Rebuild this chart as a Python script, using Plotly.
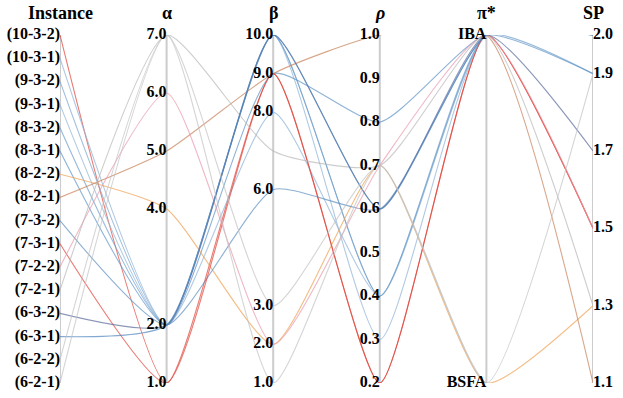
import plotly.graph_objects as go

# axes of the parallel chart
dims = ["Instance", "α", "β", "ρ", "π*", "SP"]

instances = ["(10-3-2)", "(10-3-1)", "(9-3-2)", "(9-3-1)", "(8-3-2)", "(8-3-1)",
             "(8-2-2)", "(8-2-1)", "(7-3-2)", "(7-3-1)", "(7-2-2)", "(7-2-1)",
             "(6-3-2)", "(6-3-1)", "(6-2-2)", "(6-2-1)"]
alpha = [1, 2, 2, 2, 2, 2, 4, 5, 2, 1, 6, 7, 2, 2, 7, 7]
beta = [9, 10, 10, 8, 10, 9, 2, 9, 6, 9, 2, 7, 10, 10, 3, 1]
rho = [0.2, 0.3, 0.4, 0.4, 0.4, 0.8, 0.7, 1.0, 0.6, 0.2, 0.7, 0.7, 0.6, 0.6, 0.7, 0.7]
pi_star = ["IBA", "IBA", "IBA", "IBA", "IBA", "IBA", "BSFA", "IBA", "IBA", "IBA",
           "IBA", "IBA", "IBA", "IBA", "BSFA", "BSFA"]
sp = [1.5, 2.0, 2.0, 2.0, 1.9, 1.9, 1.3, 1.1, 2.0, 1.5, 1.5, 1.3, 1.7, 2.0, 1.9, 1.1]
colors = ["#e0453a", "#8fb4d8", "#7aa6d0", "#8fb4d8", "#6f9fcc", "#5d93c6",
          "#f0a050", "#c8825a", "#5d8fc0", "#e0453a", "#e99aac", "#b8b8b8",
          "#5b6b9c", "#4f86bf", "#c4c4c4", "#c4c4c4"]

alpha_ticks = [1.0, 2.0, 4.0, 5.0, 6.0, 7.0]
beta_ticks = [1.0, 2.0, 3.0, 6.0, 8.0, 9.0, 10.0]
rho_ticks = [0.2, 0.3, 0.4, 0.5, 0.6, 0.7, 0.8, 0.9, 1.0]
pi_ticks = ["BSFA", "IBA"]
sp_ticks = [1.1, 1.3, 1.5, 1.7, 1.9, 2.0]

alpha_rng = (1, 7)
beta_rng = (1, 10)
rho_rng = (0.2, 1.0)
sp_rng = (1.1, 2.0)

FONT = "Liberation Serif"


def norm(v, rng):
    return (v - rng[0]) / (rng[1] - rng[0])


def inst_pos(name):
    n = len(instances)
    return (n - 1 - instances.index(name)) / (n - 1)


fig = go.Figure()

# axis lines
for i in range(len(dims)):
    fig.add_shape(type="line", x0=i, x1=i, y0=0, y1=1, xref="x", yref="y",
                  line=dict(color="#cccccc", width=2), layer="below")

# data lines (smooth)
for k, name in enumerate(instances):
    ys = [inst_pos(name), norm(alpha[k], alpha_rng), norm(beta[k], beta_rng),
          norm(rho[k], rho_rng), float(pi_ticks.index(pi_star[k])), norm(sp[k], sp_rng)]
    fig.add_trace(go.Scatter(
        x=list(range(len(dims))), y=ys, mode="lines",
        line=dict(color=colors[k], width=1.1, shape="spline", smoothing=0.55),
        opacity=0.7, hoverinfo="skip", showlegend=False,
    ))

# tick labels on each axis
def add_labels(xpos, yvals, texts, side="middle left"):
    fig.add_trace(go.Scatter(
        x=[xpos] * len(yvals), y=yvals, mode="text",
        text=["<b>%s</b>" % t for t in texts], textposition=side,
        textfont=dict(family=FONT, size=16, color="black"),
        hoverinfo="skip", showlegend=False, cliponaxis=False,
    ))


add_labels(0, [inst_pos(s) for s in instances], instances)
add_labels(1, [norm(v, alpha_rng) for v in alpha_ticks], ["%.1f" % v for v in alpha_ticks])
add_labels(2, [norm(v, beta_rng) for v in beta_ticks], ["%.1f" % v for v in beta_ticks])
add_labels(3, [norm(v, rho_rng) for v in rho_ticks], ["%.1f" % v for v in rho_ticks])
add_labels(4, [float(i) for i in range(len(pi_ticks))], pi_ticks)
add_labels(5, [norm(v, sp_rng) for v in sp_ticks], ["%.1f" % v for v in sp_ticks], side="middle right")

# axis names on top
titles = ["Instance", "α", "β", "<i>ρ</i>", "π*", "SP"]
for i, t in enumerate(titles):
    fig.add_annotation(x=i, y=1, xref="x", yref="paper", yanchor="bottom", yshift=10,
                       text="<b>%s</b>" % t, showarrow=False,
                       font=dict(family=FONT, size=18, color="black"))

fig.update_xaxes(range=[0, 5], visible=False, fixedrange=True)
fig.update_yaxes(range=[0, 1], visible=False, fixedrange=True)
fig.update_layout(
    width=623, height=398,
    margin=dict(l=60, r=30, t=35, b=15),
    plot_bgcolor="white", paper_bgcolor="white",
)

# drop the default 8px body margin so the figure fills the window
fig.write_html("out.html", config={"displayModeBar": False},
               post_script="document.body.style.margin = '0';")
